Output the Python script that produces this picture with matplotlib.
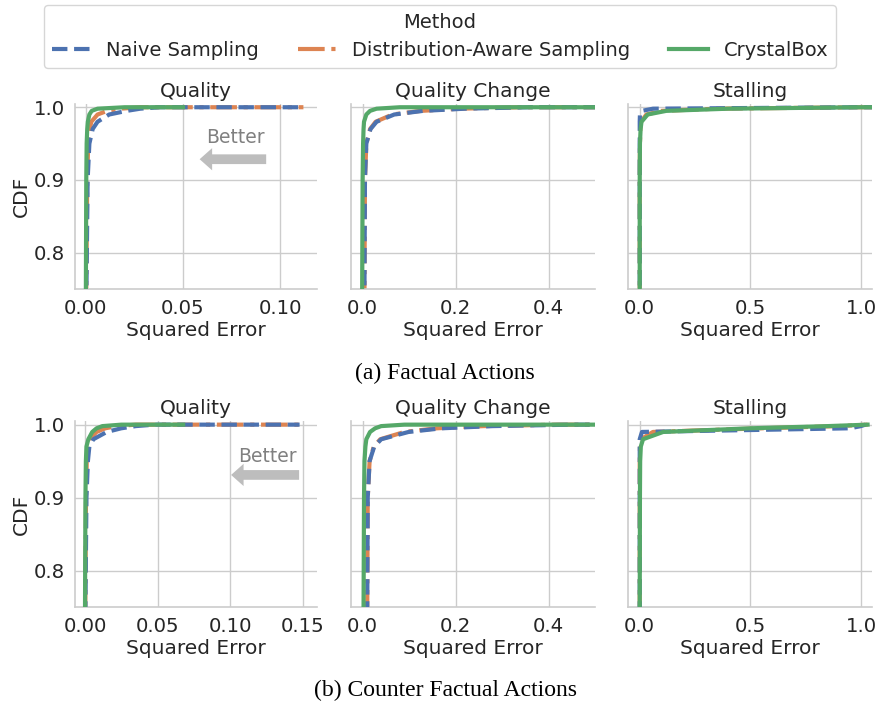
"""CDF of squared error for three sampling methods (factual / counterfactual)."""

import matplotlib
matplotlib.use('Agg')
import matplotlib.pyplot as plt
from matplotlib.lines import Line2D

TEXT = '#262626'
GRID = '#cccccc'
BLUE = '#4C72B0'
ORANGE = '#DD8452'
GREEN = '#55A868'

METHODS = ['Naive Sampling', 'Distribution-Aware Sampling', 'CrystalBox']
PANELS = ['Quality', 'Quality Change', 'Stalling']

# CDF levels shared by every curve (last entry repeats 1.0 for the flat tail)
CDF = [0.0, 0.75, 0.9, 0.95, 0.97, 0.98, 0.99, 0.995, 0.998, 1.0, 1.0]

# (a) factual actions: squared error at each CDF level
fa_q_naive = [0, 0.0003, 0.0009, 0.0018, 0.0035, 0.006, 0.012, 0.021, 0.028, 0.038, 0.112]
fa_q_dist = [0, 0.0002, 0.0007, 0.0012, 0.002, 0.0028, 0.006, 0.011, 0.018, 0.028, 0.112]
fa_q_crystal = [0, 0.0, 0.0002, 0.0004, 0.0007, 0.001, 0.0018, 0.003, 0.006, 0.02, 0.05]

fa_qc_naive = [0, 0.004, 0.005, 0.008, 0.017, 0.03, 0.068, 0.13, 0.22, 0.36, 0.6]
fa_qc_dist = [0, 0.004, 0.005, 0.008, 0.016, 0.028, 0.064, 0.125, 0.21, 0.34, 0.6]
fa_qc_crystal = [0, -0.001, 0.0, 0.001, 0.002, 0.003, 0.008, 0.016, 0.03, 0.08, 0.6]

fa_st_naive = [0, 0, 0, 0, 0, 0, 0.001, 0.01, 0.06, 1.0, 1.1]
fa_st_dist = [0, 0, 0, 0.001, 0.003, 0.006, 0.03, 0.1, 0.35, 1.0, 1.1]
fa_st_crystal = [0, 0, 0, 0.001, 0.004, 0.008, 0.036, 0.12, 0.4, 1.0, 1.1]

# (b) counter factual actions
cf_q_naive = [0, 0.0003, 0.001, 0.002, 0.003, 0.0058, 0.015, 0.025, 0.035, 0.048, 0.148]
cf_q_dist = [0, 0.0002, 0.0007, 0.0012, 0.002, 0.003, 0.008, 0.014, 0.022, 0.035, 0.15]
cf_q_crystal = [0, 0.0, 0.0003, 0.0006, 0.001, 0.0023, 0.005, 0.008, 0.012, 0.025, 0.0677]

cf_qc_naive = [0, 0.01, 0.011, 0.015, 0.025, 0.04, 0.099, 0.17, 0.28, 0.45, 0.6]
cf_qc_dist = [0, 0.01, 0.011, 0.015, 0.024, 0.038, 0.09, 0.16, 0.26, 0.42, 0.6]
cf_qc_crystal = [0, 0.002, 0.003, 0.004, 0.006, 0.008, 0.016, 0.027, 0.04, 0.09, 0.6]

cf_st_naive = [0, 0, 0, 0, 0, 0, 0.01, 0.95, 1.0, 1.02, 1.02]
cf_st_dist = [0, 0, 0, 0, 0.001, 0.005, 0.06, 0.55, 0.9, 1.03, 1.03]
cf_st_crystal = [0, 0, 0.001, 0.002, 0.005, 0.015, 0.106, 0.5, 0.85, 1.03, 1.03]

ROWS = [
    [(fa_q_naive, fa_q_dist, fa_q_crystal),
     (fa_qc_naive, fa_qc_dist, fa_qc_crystal),
     (fa_st_naive, fa_st_dist, fa_st_crystal)],
    [(cf_q_naive, cf_q_dist, cf_q_crystal),
     (cf_qc_naive, cf_qc_dist, cf_qc_crystal),
     (cf_st_naive, cf_st_dist, cf_st_crystal)],
]
XLIMS = [[(-0.0056, 0.119), (-0.025, 0.5), (-0.053, 1.05)],
         [(-0.0069, 0.16), (-0.025, 0.5), (-0.053, 1.05)]]
CAPTIONS = ['(a) Factual Actions', '(b) Counter Factual Actions']

STYLES = [dict(color=BLUE, ls='--', zorder=3),
          dict(color=ORANGE, ls='-.', zorder=2),
          dict(color=GREEN, ls='-', zorder=4)]

plt.rcParams['font.family'] = 'DejaVu Sans'
plt.rcParams['font.size'] = 14.5

W, H = 880, 704
fig = plt.figure(figsize=(W / 100, H / 100), dpi=100)
fig.patch.set_facecolor('white')

col_px = [(75, 317), (351, 595), (628, 872)]
row_px = [(103.6, 289), (421, 607)]

for r, (top, bot) in enumerate(row_px):
    for c, (left, right) in enumerate(col_px):
        ax = fig.add_axes([left / W, (H - bot) / H, (right - left) / W, (bot - top) / H])
        for series, st in zip(ROWS[r][c], STYLES):
            ax.plot(series, CDF, lw=3, **st)
        ax.set_xlim(*XLIMS[r][c])
        ax.set_ylim(0.75, 1.005)
        ax.set_yticks([0.8, 0.9, 1.0])
        ax.grid(True, color=GRID, lw=1)
        ax.set_axisbelow(True)
        for s in ['top', 'right']:
            ax.spines[s].set_visible(False)
        for s in ['left', 'bottom']:
            ax.spines[s].set_color(GRID)
            ax.spines[s].set_linewidth(1.2)
        ax.tick_params(length=0, colors=TEXT, labelsize=14.2, pad=7)
        ax.set_title(PANELS[c], fontsize=14.5, color=TEXT, pad=5)
        ax.set_xlabel('Squared Error', fontsize=14.5, color=TEXT, labelpad=2)
        if c == 0:
            ax.set_ylabel('CDF', fontsize=14.5, color=TEXT, labelpad=2)
            tx, ty, ay = [(0.665, 0.815, 0.70), (0.795, 0.81, 0.71)][r]
            ax.text(tx, ty, 'Better', transform=ax.transAxes, fontsize=13.5,
                    color='#808080', ha='center', va='center')
            x0, x1 = [(0.79, 0.515), (0.926, 0.645)][r]
            ax.annotate('', xy=(x1, ay), xytext=(x0, ay),
                        xycoords='axes fraction', textcoords='axes fraction',
                        arrowprops=dict(facecolor='#bdbdbd', edgecolor='none',
                                        width=7, headwidth=16, headlength=9,
                                        shrink=0))
        else:
            ax.set_yticklabels([])

    cap_y = [373, 690][r]
    fig.text(0.506, 1 - cap_y / H, CAPTIONS[r], ha='center', va='center',
             fontsize=17, family='Liberation Serif', color='black')

handles = [Line2D([], [], lw=3, color=st['color'], ls=st['ls']) for st in STYLES]
leg = fig.legend(handles, METHODS, loc='upper center', ncol=3,
                 bbox_to_anchor=(0.5, 1 + 5 / H), title='Method',
                 fontsize=14, title_fontsize=14, frameon=True,
                 edgecolor=GRID, fancybox=True, borderpad=0.4)
leg.get_frame().set_linewidth(1.0)
for t in leg.get_texts():
    t.set_color(TEXT)
leg.get_title().set_color(TEXT)

plt.savefig('out.png', dpi=100, facecolor='white')
plt.close()
